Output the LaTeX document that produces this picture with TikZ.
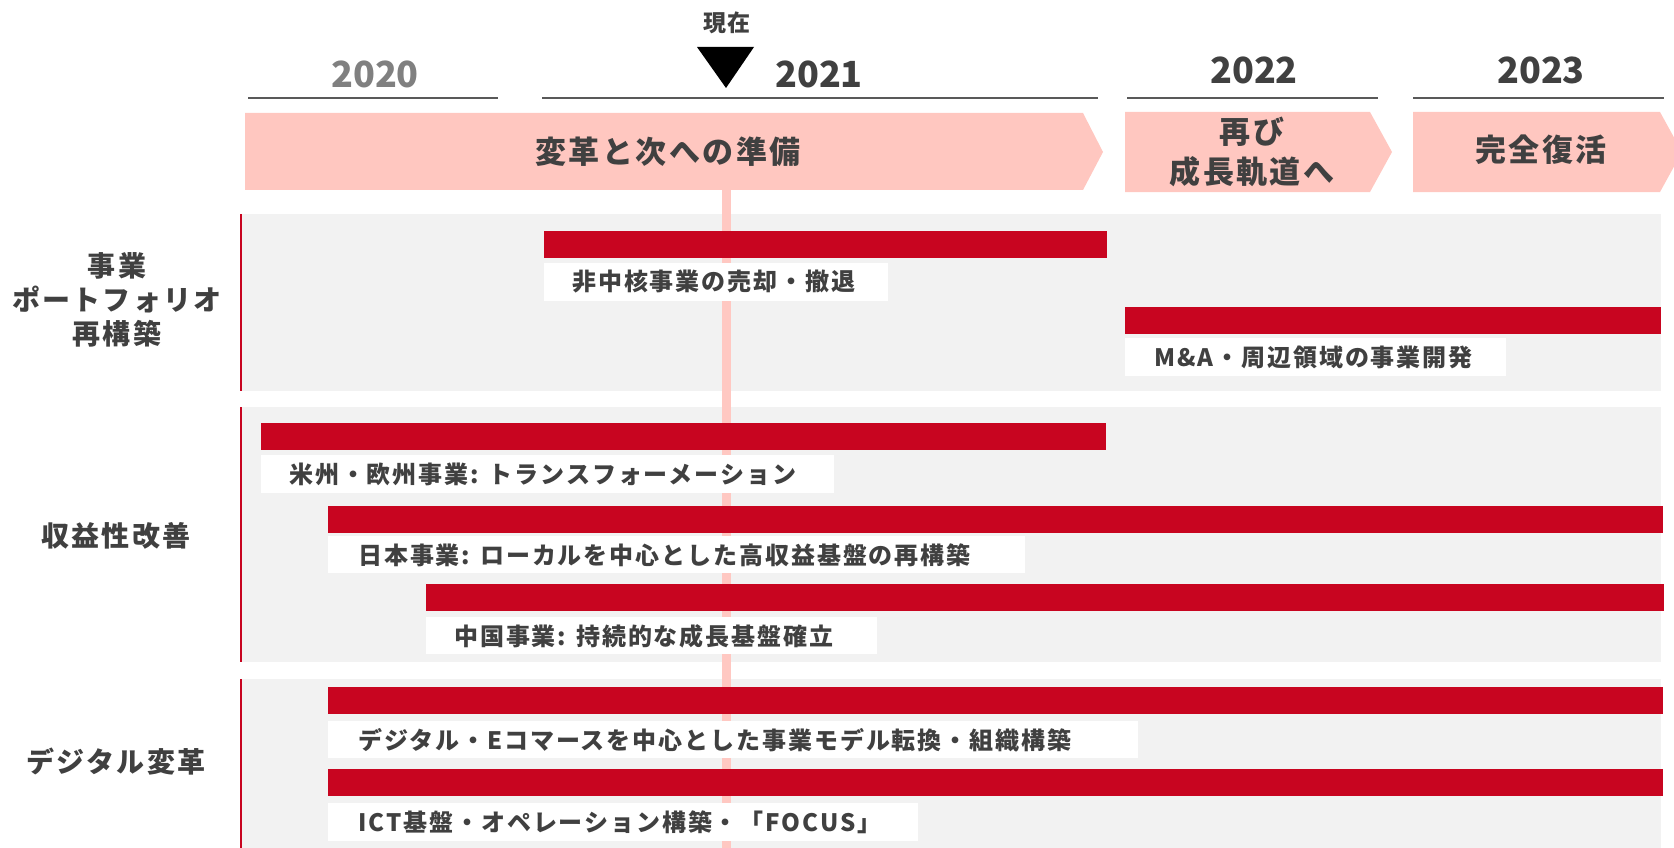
\documentclass[tikz,border=0pt]{standalone}
\usepackage{fontspec}
\setmainfont{Noto Sans CJK JP}[LetterSpace=8]
\newfontfamily\yearfont{Noto Sans CJK JP}
\definecolor{pinkband}{RGB}{255,199,192}
\definecolor{nowline}{RGB}{255,200,194}
\definecolor{barred}{RGB}{200,5,32}
\definecolor{panelgrey}{RGB}{242,242,242}
\definecolor{darktext}{RGB}{64,64,64}
\definecolor{yeargrey}{RGB}{128,128,128}
\definecolor{rulegrey}{RGB}{89,89,89}
\begin{document}
\begin{tikzpicture}[x=1pt,y=-1pt,
  lbl/.style={anchor=west,inner sep=0,text=darktext,font=\bfseries\fontsize{24}{28}\selectfont},
  cat/.style={align=center,inner sep=0,text=darktext,font=\bfseries\fontsize{28}{34}\selectfont},
  yeartxt/.style={inner sep=0,text=darktext,font=\yearfont\bfseries\fontsize{36}{40}\selectfont},
  phasetxt/.style={align=center,inner sep=0,text=darktext,font=\bfseries\fontsize{31}{40}\selectfont},
  bar/.style={fill=barred},
  labbox/.style={fill=white},
  panel/.style={fill=panelgrey},
  yearrule/.style={draw=rulegrey,line width=1.5pt}]
\useasboundingbox (0,0) rectangle (1674,848);
\begin{scope}
\clip (0,0) rectangle (1674,848);
% panels
\fill[panel] (241,214) rectangle (1661,391);
\fill[panel] (241,407) rectangle (1661,662);
\fill[panel] (241,679) rectangle (1661,848);
\draw[barred,line width=1.2pt] (241,214) -- (241,391);
\draw[barred,line width=1.2pt] (241,407) -- (241,662);
\draw[barred,line width=1.2pt] (241,679) -- (241,848);
% now line
\fill[nowline] (722,190) rectangle (731,848);
% phase arrows
\fill[pinkband] (245,113) -- (1083,113) -- (1103,152) -- (1083,190) -- (245,190) -- cycle;
\fill[pinkband] (1125,112) -- (1370,112) -- (1392,152) -- (1370,192) -- (1125,192) -- cycle;
\fill[pinkband] (1413,112) -- (1660,112) -- (1682,152) -- (1660,192) -- (1413,192) -- cycle;
\end{scope}
\node[phasetxt] (ph1) at (668,152) {変革と次への準備};
\node[phasetxt] (ph2) at (1252,152) {再び\\成長軌道へ};
\node[phasetxt] (ph3) at (1541,150) {完全復活};
% year rules
\draw[yearrule] (248,98) -- (498,98);
\draw[yearrule] (542,98) -- (1098,98);
\draw[yearrule] (1127,98) -- (1378,98);
\draw[yearrule] (1413,98) -- (1664,98);
\node[yeartxt,text=yeargrey] (y20) at (375,74) {2020};
\node[yeartxt] (y21) at (819,74) {2021};
\node[yeartxt] (y22) at (1254,70) {2022};
\node[yeartxt] (y23) at (1541,70) {2023};
% now marker
\fill[black] (697,47) -- (754,47) -- (726,88) -- cycle;
\node[inner sep=0,text=darktext,font=\bfseries\fontsize{23}{26}\selectfont] (now) at (727,23) {現在};
% categories
\node[cat] (c1) at (117,300) {事業\\ポートフォリオ\\再構築};
\node[cat] (c2) at (116,536) {収益性改善};
\node[cat] (c3) at (116,762) {デジタル変革};
% bars
\fill[bar] (544,231) rectangle (1107,258);
\fill[bar] (1125,307) rectangle (1661,334);
\fill[bar] (261,423) rectangle (1106,450);
\fill[bar] (328,506) rectangle (1663,533);
\fill[bar] (426,584) rectangle (1664,611);
\fill[bar] (328,687) rectangle (1663,714);
\fill[bar] (328,769) rectangle (1663,796);
% label boxes
\fill[labbox] (544,263) rectangle (888,301);
\fill[labbox] (1125,338) rectangle (1506,376);
\fill[labbox] (261,455) rectangle (834,493);
\fill[labbox] (328,536) rectangle (1025,573);
\fill[labbox] (426,617) rectangle (877,654);
\fill[labbox] (328,721) rectangle (1138,758);
\fill[labbox] (328,803) rectangle (918,841);
\node[lbl] (t1) at (572,282) {非中核事業の売却・撤退};
\node[lbl] (t2) at (1154,357) {M\&A・周辺領域の事業開発};
\node[lbl] (t3) at (289,474) {米州・欧州事業: トランスフォーメーション};
\node[lbl] (t4) at (358,555) {日本事業: ローカルを中心とした高収益基盤の再構築};
\node[lbl] (t5) at (454,636) {中国事業: 持続的な成長基盤確立};
\node[lbl] (t6) at (358,740) {デジタル・Eコマースを中心とした事業モデル転換・組織構築};
\node[lbl] (t7) at (358,822) {ICT基盤・オペレーション構築・「FOCUS」};
\end{tikzpicture}
\end{document}
